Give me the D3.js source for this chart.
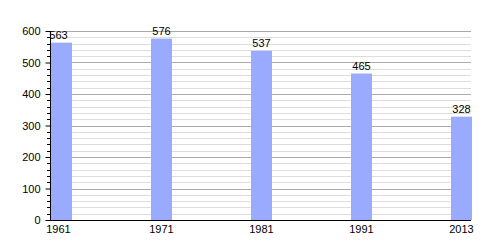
<!DOCTYPE html>
<html><head><meta charset="utf-8">
<script src="https://cdn.jsdelivr.net/npm/d3@7"></script>
<style>body{margin:0;background:#fff}text{font-family:"Liberation Sans",Arial,sans-serif}</style>
</head><body><svg id="c" width="500" height="250"></svg>
<script>
const years = ["1961","1971","1981","1991","2013"];
const population = [563,576,537,465,328];
const majorTicks = [0,100,200,300,400,500,600];

(function(){
const svg = d3.select("#c");
const left = 50, right = 471, topY = 31, bottom = 220;
const y = d3.scaleLinear().domain([0,600]).range([bottom, topY]);
const x = d3.scaleBand().domain(years).range([left, left + 100*years.length]).paddingInner(0).paddingOuter(0);
const bw = 21;

const minor = d3.range(0, 601, 20).filter(v => v % 100 !== 0);
svg.append("g").selectAll("line").data(minor).join("line")
  .attr("x1", left).attr("x2", right).attr("y1", d => Math.round(y(d))+0.5).attr("y2", d => Math.round(y(d))+0.5)
  .attr("stroke", "#dddddd").attr("stroke-width", 1);
svg.append("g").selectAll("line").data(majorTicks.slice(1)).join("line")
  .attr("x1", left).attr("x2", right).attr("y1", d => Math.round(y(d))+0.5).attr("y2", d => Math.round(y(d))+0.5)
  .attr("stroke", "#aaaaaa").attr("stroke-width", 1);

svg.append("g").selectAll("rect").data(population).join("rect")
  .attr("x", (d,i) => x(years[i]) + 1).attr("width", bw)
  .attr("y", d => y(d)).attr("height", d => bottom - y(d))
  .attr("fill", "#99aaff");

svg.append("g").selectAll("text").data(population).join("text")
  .attr("x", (d,i) => x(years[i]) + 1 + bw/2 - (i===0?3:0)).attr("y", d => y(d) - 4)
  .attr("text-anchor", "middle").attr("font-size", 11).attr("fill", "#000")
  .text(d => d);

const yAxis = d3.axisLeft(y).tickValues(majorTicks).tickSize(5).tickPadding(4).tickFormat(d3.format("d"));
const ga = svg.append("g").attr("transform", `translate(${left+0.5},0)`).call(yAxis);
ga.select(".domain").remove();
ga.selectAll("text").attr("font-size", 11).attr("fill", "#000").style("font-family", '"Liberation Sans",Arial,sans-serif').attr("dx", -1);
ga.selectAll("line").attr("stroke", "#000");
svg.append("g").selectAll("line").data(minor).join("line")
  .attr("x1", left-3).attr("x2", left).attr("y1", d => Math.round(y(d))+0.5).attr("y2", d => Math.round(y(d))+0.5)
  .attr("stroke", "#000");
svg.append("line").attr("x1", left+0.5).attr("x2", left+0.5).attr("y1", topY).attr("y2", bottom).attr("stroke", "#000");
svg.append("line").attr("x1", left).attr("x2", right).attr("y1", bottom+0.5).attr("y2", bottom+0.5).attr("stroke", "#000");

svg.append("g").selectAll("text").data(years).join("text")
  .attr("x", (d,i) => x(d) + 1 + bw/2 - (i===0?3:0)).attr("y", 233)
  .attr("text-anchor", "middle").attr("font-size", 11).attr("fill", "#000")
  .text(d => d);
})();
</script></body></html>
